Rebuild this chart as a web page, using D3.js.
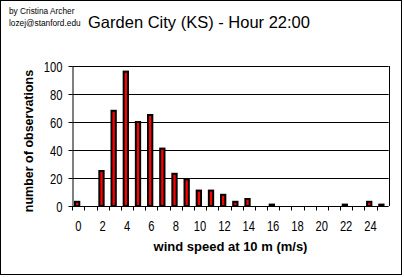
<!DOCTYPE html>
<html>
<head>
<meta charset="utf-8">
<script src="https://cdn.jsdelivr.net/npm/d3@7"></script>
<style>
  body { margin: 0; background: #fff; }
  text { font-family: "Liberation Sans", Arial, sans-serif; }
</style>
</head>
<body>
<div id="chart"></div>
<script>
// wind speed classes (m/s) and counts
const speeds = d3.range(0, 26);
const counts = [3, 0, 25, 68, 96, 60, 65, 41, 23, 19, 11, 11, 8, 3, 5, 0, 1, 0, 0, 0, 0, 0, 1, 0, 3, 1];
const yTicks = [0, 20, 40, 60, 80, 100];
const xLabels = d3.range(0, 26, 2);

const width = 404;
const height = 277;
const margin = { left: 72.3, right: 404 - 388.7, top: 66, bottom: 277 - 206 };

const svg = d3.select("#chart")
  .append("svg")
  .attr("width", width)
  .attr("height", height);

// outer frame
svg.append("rect")
  .attr("x", 0.5).attr("y", 0.5)
  .attr("width", 401).attr("height", 274)
  .attr("fill", "#fff")
  .attr("stroke", "#000");

const x = d3.scaleBand()
  .domain(speeds)
  .range([margin.left, width - margin.right]);

const y = d3.scaleLinear()
  .domain([0, 100])
  .range([height - margin.bottom, margin.top]);

// gridlines
svg.append("g")
  .selectAll("line")
  .data(yTicks.slice(1))
  .enter()
  .append("line")
  .attr("x1", margin.left)
  .attr("x2", width - margin.right)
  .attr("y1", d => Math.round(y(d)) + 0.5)
  .attr("y2", d => Math.round(y(d)) + 0.5)
  .attr("stroke", "#000");

// right border of plot area
svg.append("line")
  .attr("x1", Math.round(width - margin.right) + 0.5)
  .attr("x2", Math.round(width - margin.right) + 0.5)
  .attr("y1", y(100))
  .attr("y2", y(0))
  .attr("stroke", "#000");

// bars
const step = x.step();
svg.append("g")
  .selectAll("rect")
  .data(speeds.filter((d, i) => counts[i] > 0))
  .enter()
  .append("rect")
  .attr("x", d => x(d) + 2.7)
  .attr("y", d => y(counts[d]))
  .attr("width", 4.3)
  .attr("height", d => y(0) - y(counts[d]))
  .attr("fill", "#ff0000")
  .attr("stroke", "#000")
  .attr("stroke-width", 2);

// y axis
const yAxis = svg.append("g")
  .attr("transform", `translate(${Math.round(margin.left) + 0.5},0)`)
  .call(d3.axisLeft(y).tickValues(yTicks).tickSize(4).tickSizeOuter(0));
yAxis.select(".domain").attr("stroke", "#000");
yAxis.selectAll("text")
  .attr("font-family", "Liberation Sans, Arial, sans-serif")
  .attr("font-size", 14)
  .attr("fill", "#000")
  .attr("x", -10 / 0.8)
  .attr("dy", "0.36em")
  .attr("transform", "scale(0.8,1)");

// x axis: ticks at category boundaries
const xAxisG = svg.append("g")
  .attr("transform", `translate(0,${y(0) + 0.5})`);
xAxisG.append("line")
  .attr("x1", margin.left).attr("x2", width - margin.right)
  .attr("stroke", "#000");
xAxisG.selectAll("line.tick")
  .data(speeds)
  .enter()
  .append("line")
  .attr("class", "tick")
  .attr("x1", d => Math.round(x(d)) + 0.5)
  .attr("x2", d => Math.round(x(d)) + 0.5)
  .attr("y1", 0).attr("y2", 4)
  .attr("stroke", "#000");
xAxisG.selectAll("text")
  .data(xLabels)
  .enter()
  .append("text")
  .attr("text-anchor", "middle")
  .attr("font-size", 14)
  .attr("transform", d => `translate(${x(d) + step / 2},24) scale(0.8,1)`)
  .text(d => d);

// titles
svg.append("text")
  .attr("x", 199)
  .attr("y", 28)
  .attr("text-anchor", "middle")
  .attr("font-size", 16.5)
  .text("Garden City (KS) - Hour 22:00");

svg.append("text")
  .attr("x", 9).attr("y", 14)
  .attr("font-size", 8.3)
  .text("by Cristina Archer");
svg.append("text")
  .attr("x", 9).attr("y", 26)
  .attr("font-size", 8.3)
  .text("lozej@stanford.edu");

svg.append("text")
  .attr("x", (margin.left + width - margin.right) / 2)
  .attr("y", 251)
  .attr("text-anchor", "middle")
  .attr("font-size", 13)
  .attr("font-weight", "bold")
  .text("wind speed at 10 m (m/s)");

svg.append("text")
  .attr("transform", "translate(33,141) rotate(-90)")
  .attr("text-anchor", "middle")
  .attr("font-size", 12.5)
  .attr("font-weight", "bold")
  .text("number of observations");
</script>
</body>
</html>
